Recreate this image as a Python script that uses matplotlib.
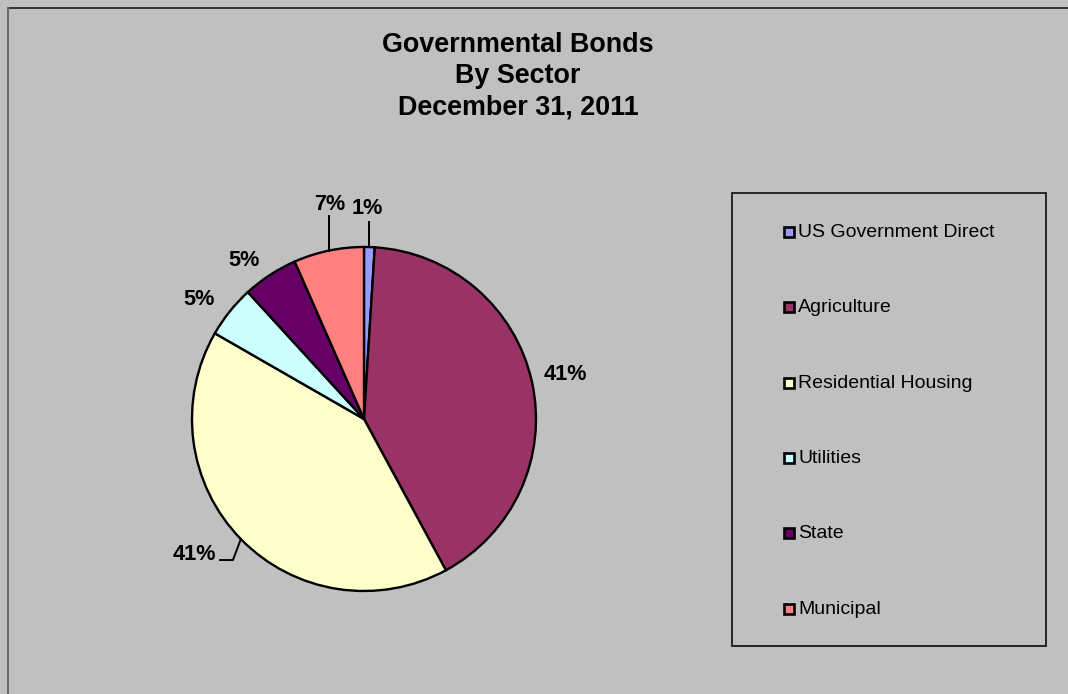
import matplotlib
matplotlib.use("Agg")
import matplotlib.pyplot as plt
import numpy as np
from matplotlib.patches import Rectangle

plt.rcParams['font.family'] = ['Liberation Sans', 'DejaVu Sans']

# data (shares, %)
sectors = ["US Government Direct", "Agriculture", "Residential Housing",
           "Utilities", "State", "Municipal"]
shares = [1.0, 41.1, 41.2, 4.9, 5.2, 6.6]
pct_labels = ["1%", "41%", "41%", "5%", "5%", "7%"]
colors = ["#9999FF", "#993366", "#FFFFCC", "#CCFFFF", "#660066", "#FF8080"]
title_lines = ["Governmental Bonds", "By Sector", "December 31, 2011"]

W, H = 1068, 694
fig = plt.figure(figsize=(W / 100, H / 100), dpi=100)
fig.patch.set_facecolor("#C0C0C0")

# full-figure pixel axes for frame, title and legend
bg = fig.add_axes([0, 0, 1, 1])
bg.set_xlim(0, W)
bg.set_ylim(H, 0)
bg.axis("off")
bg.plot([7.5, W], [7.5, 7.5], color="#1a1a1a", lw=1.2)
bg.plot([7.5, 7.5], [7.5, H], color="#6a6a6a", lw=1.5)

for i, line in enumerate(title_lines):
    bg.text(518, 52 + 31 * i, line, ha="center", va="baseline",
            fontsize=19.4, fontweight="bold", color="black")

# legend box
bg.add_patch(Rectangle((732, 193), 314, 453, facecolor="none",
                       edgecolor="#1a1a1a", lw=1.3))
for i, (name, c) in enumerate(zip(sectors, colors)):
    yc = 231.7 + 75.4 * i
    bg.add_patch(Rectangle((783.5, yc - 5), 10, 10, facecolor=c,
                           edgecolor="black", lw=1.9))
    bg.text(798, yc + 0.5, name, ha="left", va="center", fontsize=14)

# pie
cx, cy, r = 364, 419, 172
ax = fig.add_axes([(cx - r) / W, (H - cy - r) / H, 2 * r / W, 2 * r / H])
wedges, _ = ax.pie(shares, colors=colors, startangle=90, counterclock=False,
                   wedgeprops=dict(edgecolor="black", linewidth=1.7))
ax.set_xlim(-1, 1)
ax.set_ylim(-1, 1)
ax.set_aspect("equal")
ax.axis("off")

# label layout (axes data units)
label_pos = [(0.02, 1.221), (1.169, 0.26), (-0.988, -0.785),
             (-0.962, 0.694), (-0.70, 0.92), (-0.198, 1.247)]
for w, txt, (tx, ty) in zip(wedges, pct_labels, label_pos):
    ax.text(tx, ty, txt, ha="center", va="center", fontsize=15.6,
            fontweight="bold", clip_on=False)

def edge_point(w):
    m = np.deg2rad((w.theta1 + w.theta2) / 2)
    return np.cos(m), np.sin(m)

# leader lines
x0, y0 = edge_point(wedges[0])
ax.plot([x0, x0], [y0, 1.145], color="black", lw=1.4, clip_on=False)
x5, y5 = edge_point(wedges[5])
ax.plot([x5, x5], [y5, 1.18], color="black", lw=1.4, clip_on=False)
x2, y2 = edge_point(wedges[2])
ax.plot([x2, -0.762, -0.837], [y2, -0.82, -0.82], color="black", lw=1.4,
        clip_on=False)

fig.savefig("out.png", dpi=100, facecolor=fig.get_facecolor())
